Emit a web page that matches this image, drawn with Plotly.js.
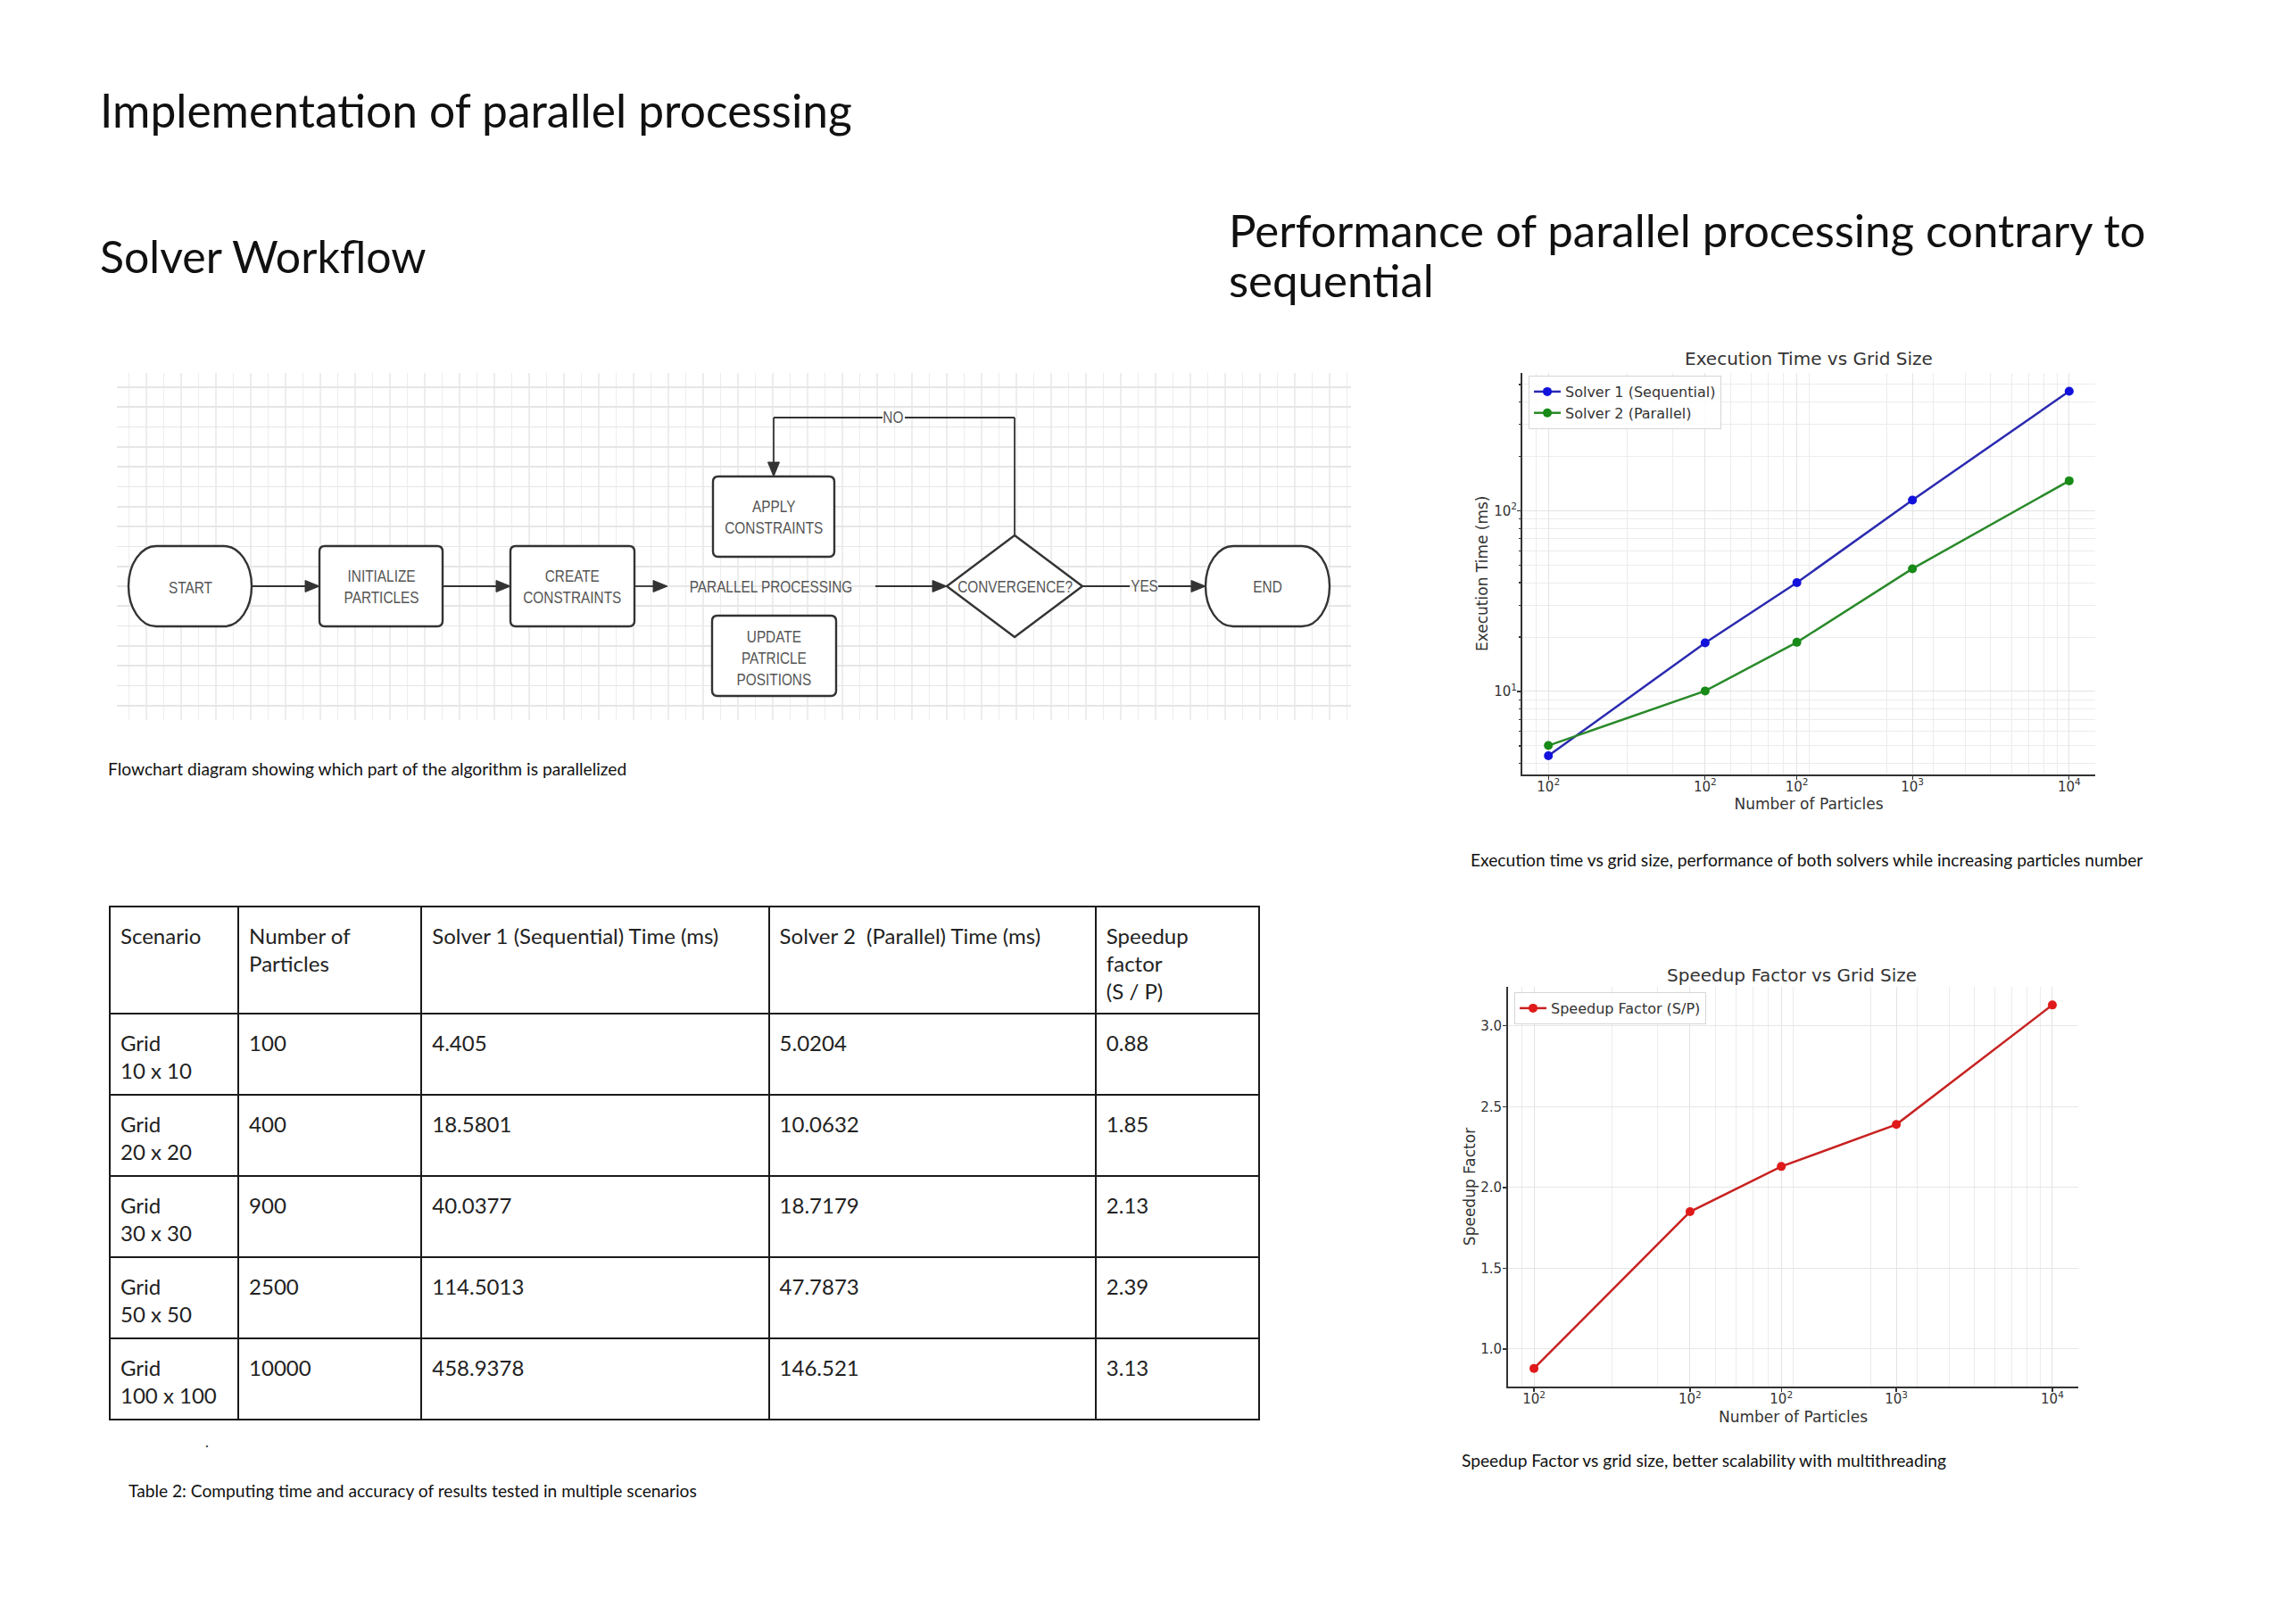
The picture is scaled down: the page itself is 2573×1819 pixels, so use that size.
<!DOCTYPE html>
<html>
<head>
<meta charset="utf-8">
<script src="https://cdn.plot.ly/plotly-3.0.1.min.js"></script>
<style>
  html, body { margin: 0; padding: 0; background: #ffffff; }
  #page { width: 2573px; height: 1819px; }
</style>
</head>
<body>
<div id="page"></div>
<script>
// ---------------- DATA ----------------
const particles = [100, 400, 900, 2500, 10000];
const scenarios = ['Grid<br>10 x 10', 'Grid<br>20 x 20', 'Grid<br>30 x 30', 'Grid<br>50 x 50', 'Grid<br>100 x 100'];
const solver1Time = [4.405, 18.5801, 40.0377, 114.5013, 458.9378];
const solver2Time = [5.0204, 10.0632, 18.7179, 47.7873, 146.521];
const speedupFactor = [0.88, 1.85, 2.13, 2.39, 3.13];
const xTickText = ['10<sup>2</sup>', '10<sup>2</sup>', '10<sup>2</sup>', '10<sup>3</sup>', '10<sup>4</sup>'];
const yLogTickVals = [10, 100];
const yLogTickText = ['10<sup>1</sup>', '10<sup>2</sup>'];
const tableHeader = ['Scenario', 'Number of<br>Particles', 'Solver 1 (Sequential) Time (ms)', 'Solver 2  (Parallel) Time (ms)', 'Speedup<br>factor<br>(S / P)'];
const flowLabels = {
  start: 'START', init: 'INITIALIZE<br>PARTICLES', create: 'CREATE<br>CONSTRAINTS',
  parallel: 'PARALLEL PROCESSING', apply: 'APPLY<br>CONSTRAINTS',
  update: 'UPDATE<br>PATRICLE<br>POSITIONS', conv: 'CONVERGENCE?', yes: 'YES', no: 'NO', end: 'END'
};

// ---------------- LAYOUT HELPERS ----------------
const W = 2573, H = 1819;
const px = x => x / W;
const py = y => 1 - y / H;

const TXT = 'Lato, "Open Sans", sans-serif';
const MPL = '"DejaVu Sans", sans-serif';
const FLOW = '"Liberation Sans Narrow", "Liberation Sans", Arial, sans-serif';
const INK = '#333333';

// every table cell as two lines so that all cells share the same text placement
const twoLines = s => (String(s).indexOf('<br>') >= 0 ? String(s) : String(s) + '<br> ');

function stadium(x0, x1, y0, y1, rx) {
  const ym = (y0 + y1) / 2, ry = (y1 - y0) / 2, k = 0.5523;
  const a = x0 + rx, b = x1 - rx;
  return `M${a},${y0} L${b},${y0} C${b + k * rx},${y0} ${x1},${ym - k * ry} ${x1},${ym} ` +
         `C${x1},${ym + k * ry} ${b + k * rx},${y1} ${b},${y1} L${a},${y1} ` +
         `C${a - k * rx},${y1} ${x0},${ym + k * ry} ${x0},${ym} C${x0},${ym - k * ry} ${a - k * rx},${y0} ${a},${y0} Z`;
}
function rrect(x0, x1, y0, y1, r) {
  return `M${x0 + r},${y0} L${x1 - r},${y0} Q${x1},${y0} ${x1},${y0 + r} L${x1},${y1 - r} Q${x1},${y1} ${x1 - r},${y1} ` +
         `L${x0 + r},${y1} Q${x0},${y1} ${x0},${y1 - r} L${x0},${y0 + r} Q${x0},${y0} ${x0 + r},${y0} Z`;
}
function headRight(tx, ty) { return `M${tx},${ty} L${tx - 16},${ty - 6.5} L${tx - 16},${ty + 6.5} Z`; }
function headDown(tx, ty) { return `M${tx},${ty} L${tx - 6.5},${ty - 16} L${tx + 6.5},${ty - 16} Z`; }

const boxStyle = { type: 'path', xref: 'x3', yref: 'y3', line: { color: INK, width: 2.4 }, fillcolor: '#ffffff' };
const headStyle = { type: 'path', xref: 'x3', yref: 'y3', line: { color: INK, width: 1 }, fillcolor: INK };
const seg = (x0, y0, x1, y1) => ({ type: 'line', xref: 'x3', yref: 'y3', x0, y0, x1, y1, line: { color: INK, width: 1.8 } });

const shapes = [
  Object.assign({ path: stadium(144, 282, 612, 702, 31) }, boxStyle),
  Object.assign({ path: rrect(358, 496, 612, 702, 6) }, boxStyle),
  Object.assign({ path: rrect(572, 711, 612, 702, 6) }, boxStyle),
  Object.assign({ path: rrect(799, 935, 534, 624, 6) }, boxStyle),
  Object.assign({ path: rrect(798, 937, 690, 780, 6) }, boxStyle),
  Object.assign({ path: 'M1137,600 L1213,657 L1137,714 L1061,657 Z' }, boxStyle),
  Object.assign({ path: stadium(1351, 1490, 612, 702, 31) }, boxStyle),
  seg(282, 657, 344, 657), Object.assign({ path: headRight(358, 657) }, headStyle),
  seg(496, 657, 558, 657), Object.assign({ path: headRight(572, 657) }, headStyle),
  seg(711, 657, 734, 657), Object.assign({ path: headRight(748, 657) }, headStyle),
  seg(981, 657, 1047, 657), Object.assign({ path: headRight(1061, 657) }, headStyle),
  seg(1213, 657, 1266, 657), seg(1298, 657, 1337, 657), Object.assign({ path: headRight(1351, 657) }, headStyle),
  seg(1137, 600, 1137, 468), seg(1137, 468, 1014, 468), seg(989, 468, 867, 468), seg(867, 468, 867, 520),
  Object.assign({ path: headDown(867, 534) }, headStyle)
];

const flowAnn = (text, x, y) => ({ text, x, y, xref: 'x3', yref: 'y3', showarrow: false,
  font: { family: FLOW, size: 18.5, color: '#555555' }, align: 'center', xanchor: 'center', yanchor: 'middle' });

const pageText = (text, x, y, size, extra) => Object.assign({ text, x: px(x), y: py(y), xref: 'paper', yref: 'paper',
  showarrow: false, xanchor: 'left', yanchor: 'middle', align: 'left',
  font: { family: TXT, size, color: '#111111' } }, extra || {});

const annotations = [
  pageText('Implementation of parallel processing', 110, 123, 51.5),
  pageText('Solver Workflow', 110, 287, 50),
  pageText('Performance of parallel processing contrary to', 1375, 257, 51),
  pageText('sequential', 1375, 314, 51),
  pageText('Flowchart diagram showing which part of the algorithm is parallelized', 119, 861, 19.2),
  pageText('Execution time vs grid size, performance of both solvers while increasing particles number', 1646, 963, 19.2),
  pageText('Speedup Factor vs grid size, better scalability with multithreading', 1636, 1636, 19.2),
  pageText('Table 2: Computing time and accuracy of results tested in multiple scenarios', 142, 1670, 19.2),
  pageText('.', 228, 1615, 16),
  { text: 'Execution Time vs Grid Size', x: px(2027), y: py(402), xref: 'paper', yref: 'paper', showarrow: false,
    xanchor: 'center', yanchor: 'middle', font: { family: MPL, size: 20, color: '#333333' } },
  { text: 'Speedup Factor vs Grid Size', x: px(2008), y: py(1093), xref: 'paper', yref: 'paper', showarrow: false,
    xanchor: 'center', yanchor: 'middle', font: { family: MPL, size: 20, color: '#333333' } },
  flowAnn(flowLabels.start, 213, 658),
  flowAnn(flowLabels.init, 427, 657),
  flowAnn(flowLabels.create, 641.5, 657),
  flowAnn(flowLabels.parallel, 864, 657),
  flowAnn(flowLabels.apply, 867, 579),
  flowAnn(flowLabels.update, 867.5, 737),
  flowAnn(flowLabels.conv, 1137, 657),
  flowAnn(flowLabels.yes, 1282, 656),
  flowAnn(flowLabels.no, 1001, 467),
  flowAnn(flowLabels.end, 1420.5, 657)
];

// flowchart labels in the reference use a narrow sans: condense them horizontally around their centre
(function () {
  const rules = [];
  annotations.forEach((a, i) => {
    if (a.font && a.font.family === FLOW) {
      rules.push(`#page .annotation[data-index="${i}"] text.annotation-text { scale: 0.83 1; transform-box: fill-box; transform-origin: center; }`);
    }
  });
  const st = document.createElement('style');
  st.textContent = rules.join('\n');
  document.head.appendChild(st);
})();

// ---------------- TRACES ----------------
const traces = [
  { type: 'scatter', mode: 'lines+markers', x: particles, y: solver1Time, name: 'Solver 1 (Sequential)',
    xaxis: 'x', yaxis: 'y', legend: 'legend',
    line: { color: '#2a2ab0', width: 2.5 }, marker: { color: '#1212dc', size: 10 } },
  { type: 'scatter', mode: 'lines+markers', x: particles, y: solver2Time, name: 'Solver 2 (Parallel)',
    xaxis: 'x', yaxis: 'y', legend: 'legend',
    line: { color: '#2a8a2a', width: 2.5 }, marker: { color: '#178a17', size: 10 } },
  { type: 'scatter', mode: 'lines+markers', x: particles, y: speedupFactor, name: 'Speedup Factor (S/P)',
    xaxis: 'x2', yaxis: 'y2', legend: 'legend2',
    line: { color: '#c82222', width: 2.5 }, marker: { color: '#e01a1a', size: 10 } },
  { type: 'scatter', mode: 'markers', x: [], y: [], xaxis: 'x3', yaxis: 'y3', showlegend: false, hoverinfo: 'skip' },
  { type: 'table',
    domain: { x: [px(123), px(1411)], y: [py(1592), py(1016)] },
    columnwidth: [144, 205, 389, 366, 183],
    header: { values: tableHeader.map(twoLines), align: 'left', height: 120,
      line: { color: '#1a1a1a', width: 2 }, fill: { color: '#ffffff' },
      font: { family: TXT, size: 24, color: '#222222' } },
    cells: { values: [scenarios.map(twoLines), particles.map(twoLines), solver1Time.map(twoLines),
                      solver2Time.map(twoLines), speedupFactor.map(v => twoLines(v.toFixed(2)))],
      align: 'left', height: 91,
      line: { color: '#1a1a1a', width: 2 }, fill: { color: '#ffffff' },
      font: { family: TXT, size: 24, color: '#222222' } } }
];

// ---------------- AXES ----------------
const tickFont = { family: MPL, size: 15, color: '#333333' };
const logX = (dom, anchor) => ({
  domain: dom, anchor, type: 'log', range: [1.9, 4.1],
  tickmode: 'array', tickvals: particles, ticktext: xTickText, tickfont: tickFont,
  ticks: 'outside', ticklen: 4, tickwidth: 1.2, tickcolor: INK, ticklabelstandoff: -5,
  showline: true, linecolor: INK, linewidth: 2, mirror: false, zeroline: false,
  showgrid: true, gridcolor: '#e3e3e3', gridwidth: 1,
  minor: { dtick: 'D1', showgrid: true, gridcolor: '#ececec', gridwidth: 1, ticks: '' },
  title: { text: 'Number of Particles', font: { family: MPL, size: 17, color: '#333333' }, standoff: 6 },
  fixedrange: true
});

const layout = {
  width: W, height: H,
  margin: { l: 0, r: 0, t: 0, b: 0, pad: 0 },
  paper_bgcolor: '#ffffff', plot_bgcolor: 'rgba(0,0,0,0)',
  showlegend: true, hovermode: false,
  xaxis: logX([px(1706), px(2348)], 'y'),
  yaxis: { domain: [py(867.5), py(418)], anchor: 'x', type: 'log', range: [0.543, 2.763],
    tickmode: 'array', tickvals: yLogTickVals, ticktext: yLogTickText, tickfont: tickFont,
    ticks: 'outside', ticklen: 4, tickwidth: 1.2, tickcolor: INK, ticklabelstandoff: -3,
    showline: true, linecolor: INK, linewidth: 2, zeroline: false,
    showgrid: true, gridcolor: '#e3e3e3', gridwidth: 1,
    minor: { dtick: 'D1', showgrid: true, gridcolor: '#ececec', gridwidth: 1, ticks: 'outside', ticklen: 2.5, tickcolor: INK },
    title: { text: 'Execution Time (ms)', font: { family: MPL, size: 17, color: '#333333' }, standoff: 2 },
    fixedrange: true },
  xaxis2: logX([px(1690), px(2329)], 'y2'),
  yaxis2: { domain: [py(1554), py(1106)], anchor: 'x2', type: 'linear', range: [0.7675, 3.2425],
    tick0: 1, dtick: 0.5, tickformat: '.1f', tickfont: tickFont,
    ticks: 'outside', ticklen: 4, tickwidth: 1.2, tickcolor: INK, ticklabelstandoff: -2,
    showline: true, linecolor: INK, linewidth: 2, zeroline: false,
    showgrid: true, gridcolor: '#e6e6e6', gridwidth: 1,
    title: { text: 'Speedup Factor', font: { family: MPL, size: 17, color: '#333333' }, standoff: 1 },
    fixedrange: true },
  xaxis3: { domain: [px(131), px(1514)], anchor: 'y3', range: [131, 1514],
    tick0: 144.5, dtick: 19.5, showticklabels: false, ticks: '', zeroline: false, showline: false,
    showgrid: true, gridcolor: '#ededed', gridwidth: 1.2, fixedrange: true },
  yaxis3: { domain: [py(807), py(418)], anchor: 'x3', range: [807, 418],
    tick0: 434, dtick: 22.3, showticklabels: false, ticks: '', zeroline: false, showline: false,
    showgrid: true, gridcolor: '#e6e6e6', gridwidth: 1.6, fixedrange: true },
  legend: { x: px(1713), y: py(421), xanchor: 'left', yanchor: 'top',
    bgcolor: 'rgba(255,255,255,0.85)', bordercolor: '#d6d6d6', borderwidth: 1,
    font: { family: MPL, size: 16, color: '#333333' }, tracegroupgap: 0, itemwidth: 30 },
  legend2: { x: px(1697), y: py(1112), xanchor: 'left', yanchor: 'top',
    bgcolor: 'rgba(255,255,255,0.85)', bordercolor: '#d6d6d6', borderwidth: 1,
    font: { family: MPL, size: 16, color: '#333333' }, itemwidth: 30 },
  shapes, annotations
};

// after Plotly has placed the table text, add the reference's inner cell padding
function padTableText() {
  document.querySelectorAll('#page g.table text').forEach(t => { t.style.translate = '4px 10px'; });
}

Plotly.newPlot('page', traces, layout, { staticPlot: true, displayModeBar: false }).then(() => {
  padTableText();
  requestAnimationFrame(padTableText);
  setTimeout(padTableText, 150);
  setTimeout(padTableText, 600);
});
</script>
</body>
</html>
